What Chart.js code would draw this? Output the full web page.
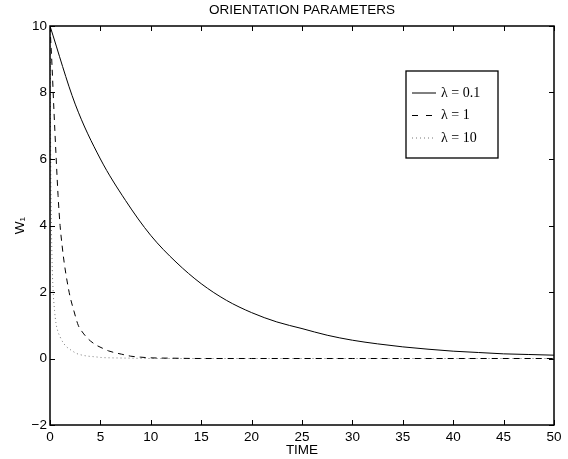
<!DOCTYPE html>
<html>
<head>
<meta charset="utf-8">
<script src="https://cdn.jsdelivr.net/npm/chart.js@4.4.1/dist/chart.umd.min.js"></script>
<style>
  html, body { margin: 0; padding: 0; background: #fff; }
  #wrap { width: 568px; height: 459px; position: relative; }
</style>
</head>
<body>
<div id="wrap"><canvas id="orientChart"></canvas></div>
<script>
// =============== DATA ===============
const seriesLabels = ['\u03bb = 0.1', '\u03bb = 1', '\u03bb = 10'];

// lambda = 0.1 (solid)
const timeSlow = [0, 2.5, 5, 7.5, 10, 12.5, 15, 17.5, 20, 22.5, 25, 27.5, 30, 32.5, 35, 37.5, 40, 42.5, 45, 47.5, 50];
const wSlow    = [10, 7.65, 6.0, 4.75, 3.7, 2.9, 2.25, 1.75, 1.38, 1.1, 0.9, 0.7, 0.55, 0.44, 0.35, 0.28, 0.22, 0.18, 0.14, 0.12, 0.1];

// lambda = 1 (dashed)
const timeMid = [0, 0.2, 0.4, 0.6, 0.8, 1.0, 1.2, 1.4, 1.6, 1.8, 2.0, 2.4, 2.8, 3.2, 3.6, 4.0, 4.6, 5.2, 5.8, 6.5, 7.1, 8, 9, 10, 12, 15, 20, 30, 40, 50];
const wMid    = [10, 8.8, 7.4, 6.1, 4.9, 4.0, 3.4, 2.9, 2.5, 2.15, 1.85, 1.4, 1.0, 0.8, 0.65, 0.53, 0.4, 0.31, 0.23, 0.17, 0.13, 0.07, 0.04, 0.02, 0.01, 0, 0, 0, 0, 0];

// lambda = 10 (dotted)
const timeFast = [0, 0.05, 0.1, 0.2, 0.3, 0.45, 0.6, 0.8, 1.0, 1.3, 1.65, 2.0, 2.65, 3.2, 3.8, 4.5, 5.1, 6, 8, 10, 20, 30, 40, 50];
const wFast    = [10, 7, 5, 3, 2.1, 1.45, 1.05, 0.8, 0.65, 0.48, 0.35, 0.27, 0.15, 0.1, 0.07, 0.05, 0.03, 0.02, 0.01, 0, 0, 0, 0, 0];

// axis ranges
const xMin = 0, xMax = 50, xStep = 5;
const yMin = -2, yMax = 10, yStep = 2;

function toPoints(xs, ys) {
  return xs.map((x, i) => ({ x: x, y: ys[i] }));
}

Chart.defaults.font.family = "'Liberation Sans', Arial, Helvetica, sans-serif";
Chart.defaults.color = '#000';

// =============== BOX + INWARD TICKS ===============
const framePlugin = {
  id: 'frame',
  afterDatasetsDraw(chart) {
    const { ctx, chartArea: a, scales } = chart;
    ctx.save();
    ctx.strokeStyle = '#000';
    ctx.lineWidth = 1.5;
    ctx.strokeRect(a.left, a.top, a.right - a.left, a.bottom - a.top);
    ctx.lineWidth = 1;
    const len = 5;
    ctx.beginPath();
    scales.x.ticks.forEach(t => {
      const px = Math.round(scales.x.getPixelForValue(t.value)) + 0.5;
      ctx.moveTo(px, a.bottom); ctx.lineTo(px, a.bottom - len);
      ctx.moveTo(px, a.top); ctx.lineTo(px, a.top + len);
    });
    scales.y.ticks.forEach(t => {
      const py = Math.round(scales.y.getPixelForValue(t.value)) + 0.5;
      ctx.moveTo(a.left, py); ctx.lineTo(a.left + len, py);
      ctx.moveTo(a.right, py); ctx.lineTo(a.right - len, py);
    });
    ctx.stroke();
    ctx.restore();
  }
};

// =============== LEGEND BOX ===============
const legendBoxPlugin = {
  id: 'legendBox',
  afterDraw(chart) {
    const { ctx, chartArea: a } = chart;
    const x0 = a.right - 148, y0 = a.top + 45, w = 92, h = 87;
    ctx.save();
    ctx.fillStyle = '#fff';
    ctx.fillRect(x0, y0, w, h);
    ctx.strokeStyle = '#000';
    ctx.lineWidth = 1.3;
    ctx.strokeRect(x0, y0, w, h);
    ctx.font = "14px 'Liberation Serif', 'Times New Roman', serif";
    ctx.textBaseline = 'middle';
    chart.data.datasets.forEach((ds, i) => {
      const y = y0 + 22 + i * 22.5;
      ctx.beginPath();
      ctx.strokeStyle = ds.borderColor;
      ctx.lineWidth = ds.borderWidth;
      // legend sample: two long dashes for the dashed series
      const dash = ds.borderDash ? (ds.borderDash[0] > 2 ? [6, 8] : ds.borderDash) : [];
      ctx.setLineDash(dash);
      ctx.moveTo(x0 + 6, y);
      ctx.lineTo(x0 + 30, y);
      ctx.stroke();
      ctx.setLineDash([]);
      ctx.fillStyle = '#000';
      ctx.fillText(ds.label, x0 + 35, y);
    });
    ctx.restore();
  }
};

const ctx = document.getElementById('orientChart').getContext('2d');
new Chart(ctx, {
  type: 'line',
  data: {
    datasets: [
      {
        label: seriesLabels[0],
        data: toPoints(timeSlow, wSlow),
        borderColor: '#000',
        borderWidth: 1,
        cubicInterpolationMode: 'monotone',
        pointRadius: 0
      },
      {
        label: seriesLabels[1],
        data: toPoints(timeMid, wMid),
        borderColor: '#000',
        borderWidth: 1,
        borderDash: [6, 5],
        cubicInterpolationMode: 'monotone',
        pointRadius: 0
      },
      {
        label: seriesLabels[2],
        data: toPoints(timeFast, wFast),
        borderColor: '#777',
        borderWidth: 1,
        borderDash: [1, 3],
        cubicInterpolationMode: 'monotone',
        pointRadius: 0
      }
    ]
  },
  options: {
    responsive: true,
    maintainAspectRatio: false,
    animation: false,
    layout: { padding: { left: 0, right: 14, top: 0, bottom: 0 } },
    plugins: {
      legend: { display: false },
      tooltip: { enabled: false }
    },
    scales: {
      x: {
        type: 'linear',
        min: xMin,
        max: xMax,
        grid: { display: false, drawTicks: false },
        border: { display: false },
        ticks: { stepSize: xStep, padding: 4, font: { size: 13.5 }, maxRotation: 0 },
        title: {
          display: true,
          text: 'TIME',
          font: { size: 13.5, lineHeight: 1.2 },
          padding: { top: 0, bottom: 0.5 }
        },
        afterFit(scale) { scale.height = 34; }
      },
      // top axis only carries the plot title, centred over the plot box
      xTop: {
        type: 'linear',
        position: 'top',
        min: xMin,
        max: xMax,
        grid: { display: false, drawTicks: false },
        border: { display: false },
        ticks: { display: false },
        title: {
          display: true,
          text: 'ORIENTATION PARAMETERS',
          font: { size: 13.5, lineHeight: 1.2 },
          padding: { top: 2.5, bottom: 0 }
        },
        afterFit(scale) { scale.height = 26; }
      },
      y: {
        min: yMin,
        max: yMax,
        grid: { display: false, drawTicks: false },
        border: { display: false },
        ticks: {
          stepSize: yStep,
          padding: 3,
          font: { size: 13.5 },
          callback: v => (v < 0 ? '\u2212' + Math.abs(v) : String(v))
        },
        title: {
          display: true,
          text: 'W\u2081',
          font: { size: 13.5, lineHeight: 1.2 },
          padding: { top: 12, bottom: 0 }
        },
        afterFit(scale) { scale.width = 50; }
      }
    }
  },
  plugins: [framePlugin, legendBoxPlugin]
});
</script>
</body>
</html>
